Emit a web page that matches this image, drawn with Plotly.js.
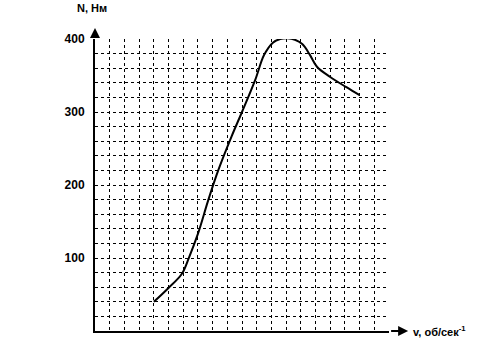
<!DOCTYPE html>
<html>
<head>
<meta charset="utf-8">
<script src="https://cdn.plot.ly/plotly-3.0.1.min.js"></script>
<style>html,body{margin:0;padding:0;background:#fff;}#chart{width:484px;height:362px;}</style>
</head>
<body>
<div id="chart"></div>
<script>
// speed (grid cells) and torque N, Нм
const speed  = [4, 5, 5.9, 6.4, 7, 7.7, 8.4, 9.3, 10, 10.9, 11.5, 12.1, 12.6, 13.1, 13.6, 14.1, 14.6, 15.1, 16, 17.1, 18];
const torque = [40, 59, 78, 101, 133, 179, 221, 267, 300, 344, 378, 395, 400, 401, 399, 393, 379, 362, 348, 334, 323];
const yTickVals = [0,20,40,60,80,100,120,140,160,180,200,220,240,260,280,300,320,340,360,380,400];
const yTickText = ['','','','','','100','','','','','200','','','','','300','','','','','400'];
const xTickVals = [0,1,2,3,4,5,6,7,8,9,10,11,12,13,14,15,16,17,18,19,20];
const yTitle = '<b>N, Нм</b>';
const xTitle = '<b>v, об/сек<sup>-1</sup></b>';

const font = {family: 'Liberation Sans, Arial, sans-serif', size: 11, color: '#000'};

Plotly.newPlot('chart', [{
  x: speed, y: torque, type: 'scatter', mode: 'lines',
  line: {color: '#000', width: 2, shape: 'spline', smoothing: 1},
  hoverinfo: 'skip'
}], {
  width: 484, height: 362,
  margin: {l: 95, r: 95, t: 39, b: 31, pad: 0},
  paper_bgcolor: '#fff', plot_bgcolor: '#fff',
  showlegend: false,
  font: font,
  xaxis: {
    range: [0, 20], tickvals: xTickVals, showticklabels: false, ticks: '',
    showgrid: true, gridcolor: '#000', griddash: 'dot', gridwidth: 1,
    showline: true, linecolor: '#000', linewidth: 2, zeroline: false
  },
  yaxis: {
    range: [0, 400], tickvals: yTickVals, ticktext: yTickText, ticks: '',
    ticklabelstandoff: 6,
    tickfont: {family: 'Liberation Sans, Arial, sans-serif', size: 12, color: '#000', weight: 'bold'},
    showgrid: true, gridcolor: '#000', griddash: 'dot', gridwidth: 1,
    showline: true, linecolor: '#000', linewidth: 2, zeroline: false
  },
  annotations: [
    {xref: 'paper', yref: 'paper', x: 0, y: 1.038, ax: 0, ay: 12, text: ' ',
     showarrow: true, arrowhead: 2, arrowsize: 1, arrowwidth: 2, arrowcolor: '#000'},
    {xref: 'paper', yref: 'paper', x: 1.065, y: 0, ax: -20, ay: 0, text: ' ',
     showarrow: true, arrowhead: 2, arrowsize: 1, arrowwidth: 2, arrowcolor: '#000'},
    {xref: 'paper', yref: 'paper', x: -0.01, y: 1.08, xanchor: 'center', yanchor: 'bottom',
     text: yTitle, showarrow: false, font: font},
    {xref: 'paper', yref: 'paper', x: 1.075, y: 0, xanchor: 'left', yanchor: 'middle',
     text: xTitle, showarrow: false, font: font}
  ]
}, {displayModeBar: false, staticPlot: true});
</script>
</body>
</html>
